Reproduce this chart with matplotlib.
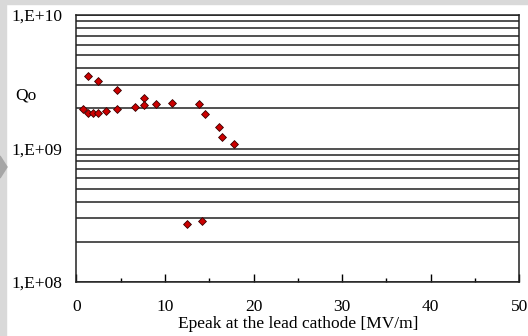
import numpy as np
import matplotlib
matplotlib.use("Agg")
import matplotlib.pyplot as plt
from matplotlib.ticker import LogLocator, NullFormatter, MultipleLocator
from matplotlib.patches import Rectangle, Polygon

# values
epeak = [0.8, 1.3, 2.4, 1.3, 1.9, 2.4, 3.4, 4.6, 4.6, 6.6, 7.6, 7.6,
         9.0, 10.8, 13.8, 14.5, 16.1, 16.4, 17.8, 12.5, 14.2]
qo = [1.99e9, 3.49e9, 3.22e9, 1.84e9, 1.84e9, 1.86e9, 1.91e9, 2.73e9, 1.99e9,
      2.06e9, 2.39e9, 2.10e9, 2.14e9, 2.18e9, 2.14e9, 1.80e9, 1.45e9, 1.22e9,
      1.09e9, 2.74e8, 2.85e8]

y_ticks = [1e8, 1e9, 1e10]
y_labels = ["1,E+08", "1,E+09", "1,E+10"]
x_ticks = [0, 10, 20, 30, 40, 50]

plt.rcParams['font.family'] = ['Liberation Serif', 'DejaVu Serif']

fig = plt.figure(figsize=(5.28, 3.36), dpi=100)

# grey slide border with the little arrow on the left
fig.patches.append(Rectangle((0, 1 - 4 / 336), 1, 4 / 336, transform=fig.transFigure,
                             color='#d9d9d9', zorder=0))
fig.patches.append(Rectangle((0, 0), 6 / 528, 1, transform=fig.transFigure,
                             color='#d9d9d9', zorder=0))
fig.patches.append(Polygon([(0, 1 - 156 / 336), (7 / 528, 1 - 167 / 336), (0, 1 - 178 / 336)],
                           closed=True, transform=fig.transFigure, color='#a6a6a6', zorder=1))

ax = fig.add_axes([76.3 / 528, 1 - 282 / 336, 443 / 528, 267 / 336])
ax.set_yscale('log')
ax.set_xlim(0, 50)
ax.set_ylim(1e8, 1e10)

ax.scatter(epeak, qo, marker='D', s=16, facecolor='#cc0000', edgecolor='#3a0000',
           linewidth=0.6, zorder=3)

ax.set_yticks(y_ticks, labels=y_labels)
ax.yaxis.set_minor_locator(LogLocator(base=10, subs=np.arange(2, 10)))
ax.yaxis.set_minor_formatter(NullFormatter())
ax.grid(which='both', axis='y', color='#222222', linewidth=1.1)
ax.tick_params(axis='y', which='both', length=0, pad=10, labelsize=12.5)

ax.set_xticks(x_ticks)
ax.xaxis.set_minor_locator(MultipleLocator(5))
ax.tick_params(axis='x', which='major', direction='in', length=6, width=1, pad=12.5, labelsize=12.5)
ax.tick_params(axis='x', which='minor', direction='in', length=3, width=1)
ax.set_xlabel('Epeak at the lead cathode [MV/m]', fontsize=12.5, labelpad=0.5)

for s in ax.spines.values():
    s.set_color('#222222')
    s.set_linewidth(1.1)

fig.text(15 / 528, 1 - 96 / 336, 'Qo', fontsize=12.5, ha='left', va='center')

fig.savefig('out.png', dpi=100)
